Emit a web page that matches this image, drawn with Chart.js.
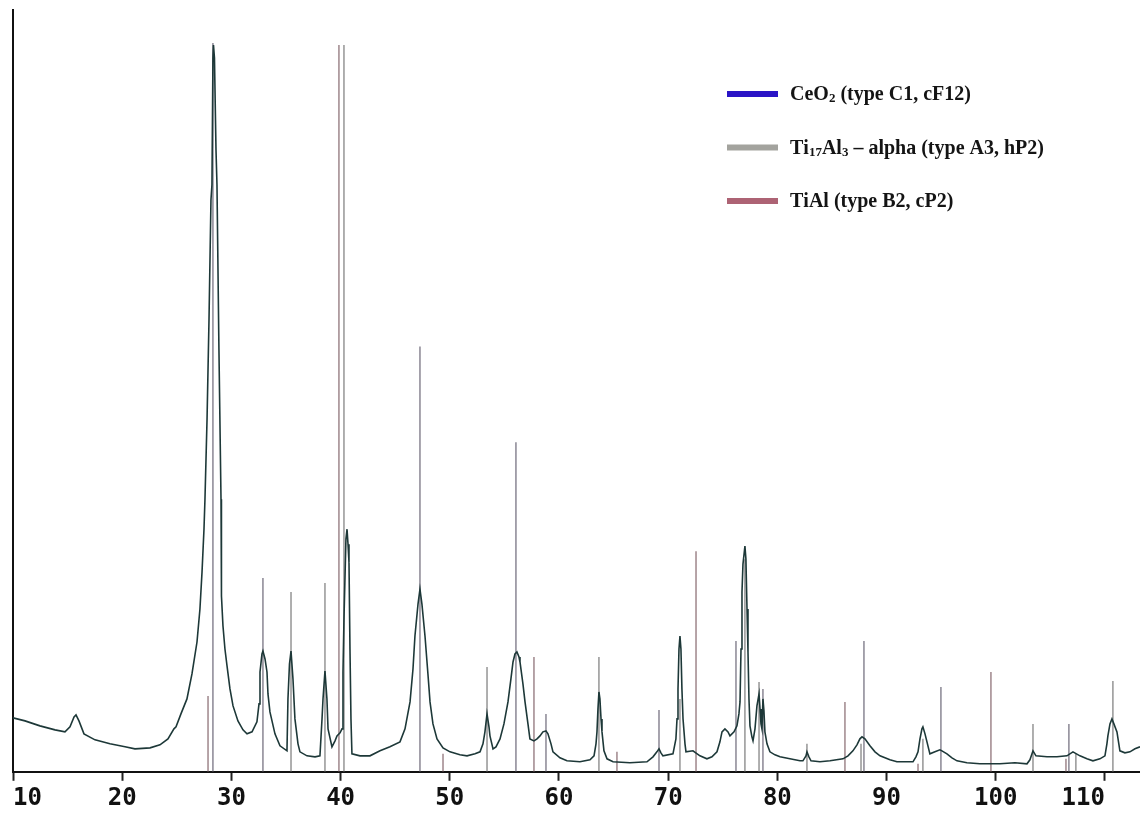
<!DOCTYPE html>
<html>
<head>
<meta charset="utf-8">
<script src="https://cdn.jsdelivr.net/npm/chart.js@4.4.1/dist/chart.umd.min.js"></script>
<style>
html,body{margin:0;padding:0;background:#ffffff;}
#wrap{width:1140px;height:816px;position:relative;}
</style>
</head>
<body>
<div id="wrap"><canvas id="c" width="1140" height="816"></canvas></div>
<script>
// ---- measured pattern (2θ in degrees, intensity in arbitrary units) ----
const twoTheta = [10.00,11.10,12.47,13.85,14.76,15.22,15.59,15.77,16.04,16.50,17.51,18.88,20.26,21.17,22.55,23.46,24.19,24.74,24.93,25.38,25.93,26.39,26.85,27.12,27.31,27.49,27.58,27.77,27.95,28.13,28.22,28.31,28.36,28.45,28.59,28.68,28.86,29.05,29.09,29.23,29.41,29.60,29.87,30.15,30.60,31.06,31.43,31.89,32.34,32.53,32.62,32.80,32.89,33.08,33.26,33.35,33.53,33.99,34.45,35.09,35.18,35.32,35.46,35.64,35.82,36.10,36.28,36.92,37.66,38.11,38.30,38.39,38.57,38.75,38.85,39.21,39.49,39.67,39.95,40.13,40.22,40.31,40.49,40.59,40.68,40.77,40.86,40.95,41.04,41.78,42.69,43.61,44.52,45.44,45.90,46.36,46.63,46.81,47.09,47.27,47.45,47.73,48.00,48.19,48.46,48.83,49.38,50.02,50.93,51.58,52.31,52.77,53.04,53.22,53.41,53.59,53.68,53.96,54.23,54.60,54.96,55.33,55.60,55.79,55.97,56.15,56.34,56.43,56.70,56.89,57.16,57.34,57.71,57.99,58.26,58.53,58.81,58.99,59.27,59.45,60.09,60.73,61.92,62.84,63.21,63.39,63.48,63.57,63.66,63.75,63.85,63.94,64.12,64.40,64.95,66.50,68.06,68.61,68.97,69.16,69.34,69.52,70.44,70.71,70.81,70.90,70.99,71.08,71.17,71.26,71.36,71.54,71.63,72.27,72.91,73.55,74.01,74.47,74.74,74.93,75.20,75.48,75.66,76.03,76.30,76.48,76.58,76.67,76.76,76.85,77.03,77.12,77.22,77.31,77.40,77.49,77.67,77.77,77.95,78.13,78.32,78.41,78.50,78.59,78.68,78.77,78.86,79.05,79.32,79.78,80.24,81.15,82.07,82.34,82.62,82.71,82.89,83.08,83.90,84.82,86.01,86.47,86.92,87.29,87.56,87.75,88.02,88.48,88.94,89.40,90.31,90.95,92.42,92.69,92.88,93.06,93.24,93.33,93.52,93.70,93.97,94.43,94.89,95.07,95.53,95.99,96.45,97.36,98.55,100.38,101.76,102.86,103.13,103.41,103.68,104.69,105.60,106.52,107.07,107.71,108.35,108.90,109.54,110.00,110.18,110.27,110.46,110.64,110.82,111.10,111.37,111.83,112.29,112.75,113.21];
const intensity = [54,51,46,42,40,45,55,57,51,38,32,28,25,23,24,27,33,43,45,58,73,98,130,163,200,243,273,353,453,573,588,715,728,715,623,588,423,273,176,146,123,106,83,66,51,42,38,40,50,68,100,118,121,113,100,78,60,38,26,21,73,108,121,93,53,28,20,16,15,16,53,73,101,73,43,25,31,36,39,43,100,153,233,243,228,210,123,53,18,16,16,21,25,30,43,70,103,136,168,183,168,136,98,70,48,33,24,20,17,16,18,20,28,40,58,45,36,23,25,33,48,70,93,110,118,120,115,110,88,70,48,33,31,33,36,40,41,38,28,20,14,11,10,12,16,28,40,63,80,73,53,40,21,13,10,9,10,15,20,23,19,16,18,33,53,83,123,136,123,83,53,28,20,21,16,13,15,20,30,40,43,40,36,40,46,58,70,123,180,208,226,213,163,120,73,46,35,31,43,66,78,63,48,43,73,61,40,28,20,17,15,13,11,11,16,20,15,11,10,11,13,16,21,27,33,35,33,26,20,16,12,10,10,15,20,33,43,45,38,30,18,20,22,21,18,14,11,9,8,8,9,8,12,21,16,15,15,16,20,16,13,11,13,16,28,36,48,53,48,40,21,19,20,23,25];

// ---- reference line positions (2θ) and heights ----
const ceo2Pos  = [28.31,32.89,47.27,56.06,58.81,69.16,76.21,78.68,87.93,94.98,106.70];
const ceo2Int  = [730,194,426,330,58,62,131,83,131,85,48];
const tiAlphaPos = [35.46,38.57,40.31,53.41,63.66,71.08,77.03,78.32,82.71,87.66,93.33,103.41,107.34,110.73];
const tiAlphaInt = [180,189,728,105,115,73,213,90,28,28,33,48,18,91];
const tiAlPos  = [27.86,39.85,49.38,57.71,65.31,72.55,86.19,92.88,99.56,106.43];
const tiAlInt  = [76,728,18,115,20,221,70,8,100,13];

const xTickValues = [10,20,30,40,50,60,70,80,90,100,110];
const seriesNames = ['CeO₂ (type C1, cF12)','Ti₁₇Al₃ – alpha (type A3, hP2)','TiAl (type B2, cP2)'];
const legendColors = ['#2a14c6','#a3a39e','#ad6374'];
const stickColors  = ['#6c6878','#7a7a7a','#86686e'];

function sticks(pos, ints){
  const pts = [];
  pos.forEach((p,i)=>{ pts.push({x:p,y:0},{x:p,y:ints[i]},{x:p,y:null}); });
  return pts;
}
const spectrum = twoTheta.map((t,i)=>({x:t,y:intensity[i]}));

const subMap = {'₀':'0','₁':'1','₂':'2','₃':'3','₄':'4','₅':'5','₆':'6','₇':'7','₈':'8','₉':'9'};
const legendPlugin = {
  id:'xrdLegend',
  afterDatasetsDraw(chart){
    const ctx = chart.ctx, ca = chart.chartArea;
    const x0 = ca.right - 413, y0 = ca.top + 84, gap = 53.5;
    ctx.save();
    seriesNames.forEach((name,i)=>{
      const y = y0 + i*gap;
      ctx.fillStyle = legendColors[i];
      ctx.fillRect(x0, y-3, 51, 6);
      let x = x0 + 63;
      ctx.fillStyle = '#141414';
      ctx.textBaseline = 'middle';
      ctx.textAlign = 'left';
      for (const ch of name){
        if (subMap[ch]){
          ctx.font = 'bold 13px "Liberation Serif"';
          ctx.fillText(subMap[ch], x, y+5);
          x += ctx.measureText(subMap[ch]).width;
        } else {
          ctx.font = 'bold 20px "Liberation Serif"';
          ctx.fillText(ch, x, y+1);
          x += ctx.measureText(ch).width;
        }
      }
    });
    ctx.restore();
  }
};

new Chart(document.getElementById('c'), {
  type:'line',
  data:{
    datasets:[
      {label:'pattern', data:spectrum, borderColor:'#1d3838', borderWidth:1.6, pointRadius:0, tension:0, order:0},
      {label:seriesNames[0], data:sticks(ceo2Pos,ceo2Int), borderColor:stickColors[0], borderWidth:1.2, pointRadius:0, spanGaps:false, order:1},
      {label:seriesNames[1], data:sticks(tiAlphaPos,tiAlphaInt), borderColor:stickColors[1], borderWidth:1.2, pointRadius:0, spanGaps:false, order:2},
      {label:seriesNames[2], data:sticks(tiAlPos,tiAlInt), borderColor:stickColors[2], borderWidth:1.2, pointRadius:0, spanGaps:false, order:3}
    ]
  },
  options:{
    responsive:false,
    animation:false,
    layout:{padding:{left:5,right:0,top:10,bottom:0}},
    plugins:{legend:{display:false}, tooltip:{enabled:false}},
    scales:{
      x:{
        type:'linear', min:10, max:113.21,
        afterBuildTicks(scale){ scale.ticks = xTickValues.map(v=>({value:v})); },
        ticks:{align:'inner', autoSkip:false, maxRotation:0, includeBounds:false, padding:5, color:'#111',
               font:{family:'DejaVu Sans Mono', weight:'bold', size:24, lineHeight:1.05}, callback:(v)=>String(v)},
        grid:{drawOnChartArea:false, drawTicks:true, tickLength:9, tickWidth:2, tickColor:'#222'},
        border:{display:true, color:'#111', width:2}
      },
      y:{
        min:0, max:763,
        ticks:{display:false},
        grid:{display:false},
        border:{display:true, color:'#111', width:2}
      }
    }
  },
  plugins:[legendPlugin]
});
</script>
</body>
</html>
